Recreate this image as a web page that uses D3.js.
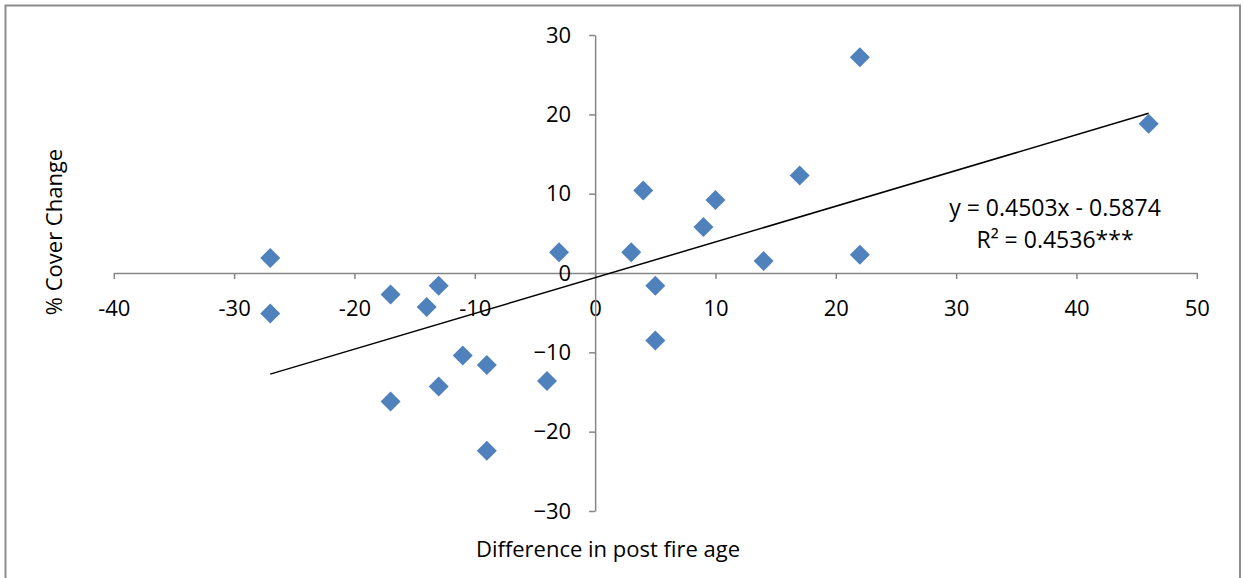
<!DOCTYPE html>
<html><head><meta charset="utf-8">
<script src="https://cdn.jsdelivr.net/npm/d3@7"></script>
<style>
html,body{margin:0;padding:0;background:#fff;}
svg{display:block;}
text{font-family:"Open Sans","Lato",sans-serif;fill:#000;}
</style></head>
<body>
<svg id="chart" width="1243" height="578"></svg>
<script>
const ageDiff = [-27,-27,-17,-17,-13,-14,-13,-11,-9,-9,-4,-3,3,4,5,5,9,10,14,17,22,22,46];
const coverChange = [1.9,-5.1,-2.7,-16.2,-1.6,-4.3,-14.3,-10.4,-11.6,-22.4,-13.6,2.6,2.6,10.4,-1.6,-8.5,5.8,9.2,1.5,12.3,27.2,2.3,18.8];
const xTicks = [-40,-30,-20,-10,0,10,20,30,40,50];
const yTicks = [-30,-20,-10,0,10,20,30];
const slope = 0.4503, intercept = -0.5874;
const eqLabel = "y = 0.4503x - 0.5874";
const r2Label = "R² = 0.4536***";
const xTitle = "Difference in post fire age";
const yTitle = "% Cover Change";

const svg = d3.select("#chart");
const x = d3.scaleLinear().domain([-40,50]).range([113.8,1196.8]);
const y = d3.scaleLinear().domain([-30,30]).range([511,35]);
const axisColor = "#868686";
const fs = 22;

// outer border
svg.append("path").attr("d","M5.5,600 V5.5 H1240 V600")
  .attr("fill","none").attr("stroke","#8c8c8c").attr("stroke-width",2);

// x axis at y=0
const gx = svg.append("g").attr("transform",`translate(0,${y(0)})`)
  .call(d3.axisBottom(x).tickValues(xTicks).tickSize(6).tickSizeOuter(0).tickPadding(21).tickFormat(d3.format("d")));
// y axis at x=0
const gy = svg.append("g").attr("transform",`translate(${x(0)},0)`)
  .call(d3.axisLeft(y).tickValues(yTicks).tickSize(6).tickSizeOuter(0).tickPadding(18).tickFormat(d3.format("d")));
[gx,gy].forEach(g=>{
  g.select(".domain").attr("stroke",axisColor).attr("stroke-width",1.5);
  g.selectAll(".tick line").attr("stroke",axisColor).attr("stroke-width",1.5);
  g.selectAll(".tick text").attr("font-size",fs).attr("font-family","'Open Sans',sans-serif").attr("fill","#000");
});
gx.selectAll(".tick text").text(d=>String(d));

// trendline
const xMin = d3.min(ageDiff), xMax = d3.max(ageDiff);
svg.append("line")
  .attr("x1",x(xMin)).attr("y1",y(slope*xMin+intercept))
  .attr("x2",x(xMax)).attr("y2",y(slope*xMax+intercept))
  .attr("stroke","#000").attr("stroke-width",1.5);

// points
const sym = d3.symbol().type(d3.symbolSquare).size(200);
svg.append("g").selectAll("path").data(ageDiff.map((d,i)=>[d,coverChange[i]]))
  .join("path")
  .attr("d",sym)
  .attr("transform",d=>`translate(${x(d[0])},${y(d[1])}) rotate(45)`)
  .attr("fill","#4f81bd");

// equation
svg.append("text").attr("x",1055).attr("y",216).attr("text-anchor","middle").attr("font-size",23).text(eqLabel);
svg.append("text").attr("x",1055).attr("y",248).attr("text-anchor","middle").attr("font-size",23).text(r2Label);

// titles
svg.append("text").attr("x",608).attr("y",557).attr("text-anchor","middle").attr("font-size",fs).text(xTitle);
svg.append("text").attr("transform","translate(62,232) rotate(-90)").attr("text-anchor","middle").attr("font-size",fs).text(yTitle);
</script>
</body></html>
